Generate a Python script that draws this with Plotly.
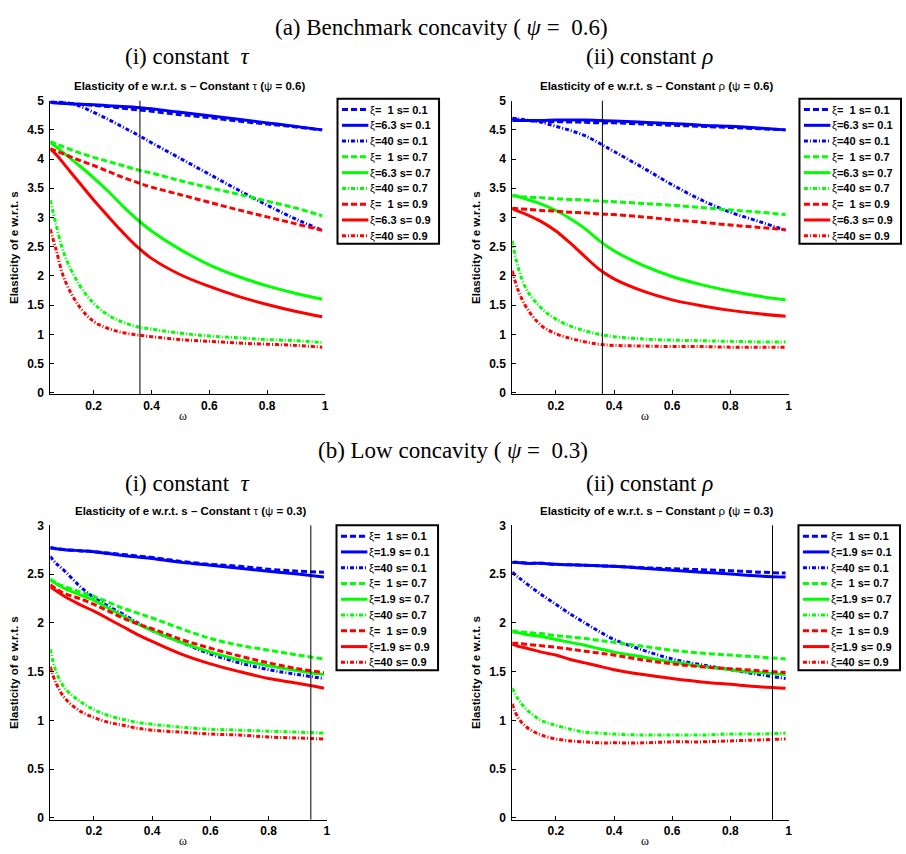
import plotly.graph_objects as go

# ---------------------------------------------------------------- data
OMEGA = [0.05, 0.07, 0.10, 0.15, 0.20, 0.25, 0.30, 0.35, 0.40, 0.50, 0.60, 0.70, 0.80, 0.90, 0.99]
X_TICKS = [0.2, 0.4, 0.6, 0.8, 1]
Y_TICKS_BENCH = [0, 0.5, 1, 1.5, 2, 2.5, 3, 3.5, 4, 4.5, 5]
Y_TICKS_LOW = [0, 0.5, 1, 1.5, 2, 2.5, 3]
S_VALUES = ["0.1", "0.7", "0.9"]
XI_BENCH = ["1", "6.3", "40"]
XI_LOW = ["1", "1.9", "40"]
MARK_BENCH = 0.36
MARK_LOW = 0.945

# (a)(i) benchmark concavity psi = 0.6, constant tau
tau_b_s01_xi1 = [4.98, 4.97, 4.96, 4.94, 4.92, 4.90, 4.87, 4.845, 4.82, 4.76, 4.71, 4.65, 4.60, 4.55, 4.50]
tau_b_s01_xi2 = [4.97, 4.96, 4.95, 4.94, 4.93, 4.915, 4.90, 4.885, 4.86, 4.80, 4.74, 4.68, 4.62, 4.56, 4.50]
tau_b_s01_xi3 = [5.00, 4.99, 4.97, 4.91, 4.80, 4.68, 4.55, 4.42, 4.28, 4.01, 3.74, 3.47, 3.21, 2.97, 2.78]
tau_b_s07_xi1 = [4.30, 4.26, 4.20, 4.11, 4.03, 3.96, 3.89, 3.82, 3.76, 3.63, 3.51, 3.40, 3.28, 3.16, 3.03]
tau_b_s07_xi2 = [4.28, 4.21, 4.09, 3.89, 3.68, 3.45, 3.20, 2.97, 2.77, 2.45, 2.19, 1.99, 1.83, 1.70, 1.60]
tau_b_s07_xi3 = [3.30, 2.88, 2.35, 1.85, 1.53, 1.33, 1.21, 1.13, 1.09, 1.02, 0.97, 0.94, 0.91, 0.89, 0.86]
tau_b_s09_xi1 = [4.18, 4.14, 4.08, 3.98, 3.89, 3.79, 3.69, 3.60, 3.52, 3.39, 3.26, 3.13, 3.01, 2.89, 2.78]
tau_b_s09_xi2 = [4.17, 4.08, 3.90, 3.60, 3.30, 3.02, 2.75, 2.50, 2.30, 2.02, 1.82, 1.65, 1.51, 1.39, 1.30]
tau_b_s09_xi3 = [2.80, 2.45, 1.93, 1.48, 1.22, 1.10, 1.03, 0.99, 0.96, 0.91, 0.88, 0.85, 0.83, 0.81, 0.78]

# (a)(ii) benchmark concavity psi = 0.6, constant rho
rho_b_s01_xi1 = [4.68, 4.67, 4.66, 4.65, 4.64, 4.635, 4.63, 4.62, 4.62, 4.60, 4.58, 4.56, 4.54, 4.52, 4.50]
rho_b_s01_xi2 = [4.66, 4.66, 4.66, 4.66, 4.67, 4.67, 4.67, 4.66, 4.65, 4.63, 4.61, 4.58, 4.56, 4.53, 4.50]
rho_b_s01_xi3 = [4.70, 4.69, 4.67, 4.63, 4.56, 4.49, 4.40, 4.27, 4.13, 3.85, 3.56, 3.30, 3.09, 2.93, 2.78]
rho_b_s07_xi1 = [3.37, 3.36, 3.35, 3.34, 3.32, 3.31, 3.30, 3.28, 3.27, 3.24, 3.21, 3.17, 3.13, 3.09, 3.05]
rho_b_s07_xi2 = [3.38, 3.36, 3.31, 3.23, 3.12, 2.98, 2.81, 2.60, 2.43, 2.18, 1.99, 1.85, 1.74, 1.65, 1.59]
rho_b_s07_xi3 = [2.60, 2.15, 1.76, 1.45, 1.26, 1.14, 1.06, 1.00, 0.96, 0.92, 0.90, 0.89, 0.88, 0.87, 0.87]
rho_b_s09_xi1 = [3.16, 3.15, 3.14, 3.12, 3.11, 3.09, 3.08, 3.06, 3.05, 3.01, 2.96, 2.92, 2.87, 2.83, 2.79]
rho_b_s09_xi2 = [3.15, 3.11, 3.05, 2.93, 2.77, 2.56, 2.33, 2.11, 1.95, 1.74, 1.59, 1.49, 1.41, 1.35, 1.31]
rho_b_s09_xi3 = [2.09, 1.76, 1.45, 1.15, 1.01, 0.93, 0.87, 0.83, 0.81, 0.80, 0.79, 0.79, 0.78, 0.78, 0.78]

# (b)(i) low concavity psi = 0.3, constant tau
tau_l_s01_xi1 = [2.77, 2.76, 2.75, 2.74, 2.73, 2.715, 2.70, 2.685, 2.67, 2.63, 2.60, 2.58, 2.55, 2.53, 2.52]
tau_l_s01_xi2 = [2.77, 2.76, 2.75, 2.74, 2.73, 2.71, 2.69, 2.675, 2.66, 2.62, 2.59, 2.56, 2.53, 2.50, 2.47]
tau_l_s01_xi3 = [2.68, 2.61, 2.53, 2.38, 2.26, 2.17, 2.09, 2.00, 1.92, 1.80, 1.68, 1.59, 1.52, 1.47, 1.43]
tau_l_s07_xi1 = [2.45, 2.41, 2.37, 2.32, 2.27, 2.21, 2.15, 2.10, 2.05, 1.94, 1.84, 1.77, 1.72, 1.67, 1.63]
tau_l_s07_xi2 = [2.44, 2.40, 2.35, 2.29, 2.23, 2.15, 2.07, 1.99, 1.92, 1.80, 1.70, 1.62, 1.56, 1.51, 1.47]
tau_l_s07_xi3 = [1.73, 1.50, 1.33, 1.20, 1.11, 1.05, 1.01, 0.98, 0.96, 0.93, 0.91, 0.90, 0.89, 0.88, 0.87]
tau_l_s09_xi1 = [2.39, 2.35, 2.30, 2.25, 2.19, 2.12, 2.05, 1.99, 1.94, 1.83, 1.74, 1.66, 1.59, 1.53, 1.49]
tau_l_s09_xi2 = [2.37, 2.33, 2.27, 2.19, 2.12, 2.04, 1.96, 1.88, 1.81, 1.68, 1.58, 1.50, 1.43, 1.38, 1.33]
tau_l_s09_xi3 = [1.55, 1.38, 1.23, 1.10, 1.03, 0.98, 0.95, 0.92, 0.90, 0.88, 0.86, 0.85, 0.83, 0.82, 0.81]

# (b)(ii) low concavity psi = 0.3, constant rho
rho_l_s01_xi1 = [2.62, 2.62, 2.61, 2.61, 2.60, 2.595, 2.59, 2.585, 2.58, 2.565, 2.555, 2.545, 2.535, 2.52, 2.51]
rho_l_s01_xi2 = [2.62, 2.62, 2.61, 2.61, 2.60, 2.595, 2.59, 2.585, 2.58, 2.56, 2.54, 2.52, 2.50, 2.48, 2.47]
rho_l_s01_xi3 = [2.52, 2.47, 2.40, 2.29, 2.19, 2.09, 2.00, 1.91, 1.83, 1.72, 1.63, 1.57, 1.52, 1.47, 1.43]
rho_l_s07_xi1 = [1.92, 1.91, 1.90, 1.89, 1.87, 1.855, 1.84, 1.82, 1.80, 1.76, 1.72, 1.69, 1.67, 1.65, 1.63]
rho_l_s07_xi2 = [1.91, 1.90, 1.88, 1.86, 1.83, 1.80, 1.77, 1.735, 1.70, 1.65, 1.60, 1.555, 1.52, 1.49, 1.47]
rho_l_s07_xi3 = [1.33, 1.22, 1.11, 1.00, 0.95, 0.91, 0.88, 0.87, 0.86, 0.85, 0.85, 0.85, 0.86, 0.86, 0.87]
rho_l_s09_xi1 = [1.79, 1.79, 1.78, 1.765, 1.75, 1.73, 1.71, 1.69, 1.67, 1.62, 1.58, 1.55, 1.53, 1.51, 1.49]
rho_l_s09_xi2 = [1.78, 1.76, 1.74, 1.70, 1.67, 1.625, 1.59, 1.555, 1.52, 1.47, 1.43, 1.395, 1.37, 1.345, 1.33]
rho_l_s09_xi3 = [1.17, 1.03, 0.93, 0.85, 0.81, 0.79, 0.78, 0.77, 0.77, 0.77, 0.78, 0.78, 0.79, 0.80, 0.81]

# ---------------------------------------------------------------- styling
W, H = 906, 854
COLORS = ["#0000FF", "#00FF00", "#FF0000"]          # by s
DASHES = ["6px,3px", "solid", "4px,2px,1px,2px"]     # by xi
SANS = "Liberation Sans"
SERIF = "Liberation Serif"


def fx(p):
    return p / W


def fy(p):
    return 1 - p / H


panels = [
    dict(n="", box=(50.5, 326.5, 95, 393), yt=Y_TICKS_BENCH, mark=MARK_BENCH, xi=XI_BENCH,
         leg=(339, 93), sym="τ", psi="0.6",
         data=[[tau_b_s01_xi1, tau_b_s01_xi2, tau_b_s01_xi3],
               [tau_b_s07_xi1, tau_b_s07_xi2, tau_b_s07_xi3],
               [tau_b_s09_xi1, tau_b_s09_xi2, tau_b_s09_xi3]]),
    dict(n="2", box=(514.5, 792, 95, 393), yt=Y_TICKS_BENCH, mark=MARK_BENCH, xi=XI_BENCH,
         leg=(803, 93), sym="ρ", psi="0.6",
         data=[[rho_b_s01_xi1, rho_b_s01_xi2, rho_b_s01_xi3],
               [rho_b_s07_xi1, rho_b_s07_xi2, rho_b_s07_xi3],
               [rho_b_s09_xi1, rho_b_s09_xi2, rho_b_s09_xi3]]),
    dict(n="3", box=(50.5, 328.3, 525.7, 824.3), yt=Y_TICKS_LOW, mark=MARK_LOW, xi=XI_LOW,
         leg=(338, 525.7), sym="τ", psi="0.3",
         data=[[tau_l_s01_xi1, tau_l_s01_xi2, tau_l_s01_xi3],
               [tau_l_s07_xi1, tau_l_s07_xi2, tau_l_s07_xi3],
               [tau_l_s09_xi1, tau_l_s09_xi2, tau_l_s09_xi3]]),
    dict(n="4", box=(514.5, 792, 525.7, 824.3), yt=Y_TICKS_LOW, mark=MARK_LOW, xi=XI_LOW,
         leg=(802, 525.7), sym="ρ", psi="0.3",
         data=[[rho_l_s01_xi1, rho_l_s01_xi2, rho_l_s01_xi3],
               [rho_l_s07_xi1, rho_l_s07_xi2, rho_l_s07_xi3],
               [rho_l_s09_xi1, rho_l_s09_xi2, rho_l_s09_xi3]]),
]

fig = go.Figure()
shapes = []
annotations = []
tick_font = dict(family=SANS, size=12, color="black", weight="bold")

for p in panels:
    n = p["n"]
    left, right, top, bottom = p["box"]
    xref, yref = "x" + n, "y" + n
    ymax = p["yt"][-1]

    # curves, ordered s = 0.1, 0.7, 0.9 and xi low, mid, high
    for si, s in enumerate(S_VALUES):
        for ki, xi in enumerate(p["xi"]):
            fig.add_trace(go.Scatter(
                x=OMEGA, y=p["data"][si][ki], xaxis=xref, yaxis=yref, mode="lines",
                line=dict(color=COLORS[si], width=3, dash=DASHES[ki], shape="spline", smoothing=1.0),
                name=f"ξ={xi} s= {s}", hoverinfo="x+y+name",
            ))

    axis_common = dict(showgrid=False, zeroline=False, showline=True, linecolor="black",
                       linewidth=1, ticks="inside", ticklen=4, tickcolor="black",
                       tickwidth=1, tickfont=tick_font)
    fig.layout["xaxis" + n] = dict(
        domain=[fx(left), fx(right)], range=[0.05, 1], tickvals=X_TICKS,
        anchor=yref, **axis_common)
    # start a hair below zero so the "0" tick label is kept
    fig.layout["yaxis" + n] = dict(
        domain=[fy(bottom), fy(top)], range=[-0.006 * ymax, ymax], tickvals=p["yt"],
        anchor=xref, ticklabelstandoff=3, **axis_common)

    # vertical reference line at the marked omega
    shapes.append(dict(type="line", xref=xref, yref=yref + " domain", x0=p["mark"], x1=p["mark"],
                       y0=0, y1=1, line=dict(color="black", width=1)))

    # small panel title
    annotations.append(dict(
        text=f"<b>Elasticity of e w.r.t. s – Constant </b>{p['sym']}<b> (</b>ψ<b> = {p['psi']})</b>",
        x=fx((left + right) / 2 + 6 if p["sym"] == "ρ" else (left + right) / 2 + 2),
        y=fy(top - 15), xref="paper", yref="paper", showarrow=False,
        xanchor="center", yanchor="middle", font=dict(family=SANS, size=11.5, color="black")))
    # axis titles
    annotations.append(dict(text="<b>Elasticity of e w.r.t. s</b>", x=fx(left - 37), y=fy((top + bottom) / 2),
                            xref="paper", yref="paper", showarrow=False, textangle=-90,
                            xanchor="center", yanchor="middle",
                            font=dict(family=SANS, size=11.5, color="black")))
    annotations.append(dict(text="ω", x=fx(left + 133), y=fy(bottom + 22), xref="paper", yref="paper",
                            showarrow=False, xanchor="center", yanchor="middle",
                            font=dict(family=SERIF, size=12, color="black")))

    # legend box
    lx, ly = p["leg"]
    shapes.append(dict(type="rect", xref="paper", yref="paper", x0=fx(lx), x1=fx(lx + 102),
                       y0=fy(ly + 147), y1=fy(ly), line=dict(color="black", width=2),
                       fillcolor="white", layer="above"))
    row = 0
    for si, s in enumerate(S_VALUES):
        for ki, xi in enumerate(p["xi"]):
            yc = ly + 11 + 16 * row
            shapes.append(dict(type="line", xref="paper", yref="paper", x0=fx(lx + 4.5), x1=fx(lx + 31),
                               y0=fy(yc), y1=fy(yc), layer="above",
                               line=dict(color=COLORS[si], width=3, dash=DASHES[ki])))
            xi_txt = xi if len(xi) > 1 else "\u00a0\u00a0" + xi
            annotations.append(dict(text=f"ξ<b>={xi_txt} s= {s}</b>", x=fx(lx + 31), y=fy(yc),
                                    xref="paper", yref="paper", showarrow=False,
                                    xanchor="left", yanchor="middle",
                                    font=dict(family=SANS, size=11, color="black")))
            row += 1

# section and column headings
headings = [
    ("(a) Benchmark concavity (\u00a0<i>ψ</i> =\u00a0\u00a00.6)", 443, 21),
    ("(i) constant\u00a0 <i>τ</i>", 188, 50),
    ("(ii) constant <i>ρ</i>", 652, 50),
    ("(b) Low concavity (\u00a0<i>ψ</i> =\u00a0\u00a00.3)", 455, 450),
    ("(i) constant\u00a0 <i>τ</i>", 188, 483),
    ("(ii) constant <i>ρ</i>", 652, 483),
]
for txt, x, y in headings:
    annotations.append(dict(text=txt, x=fx(x), y=fy(y), xref="paper", yref="paper", showarrow=False,
                            xanchor="center", yanchor="middle",
                            font=dict(family=SERIF, size=23, color="black")))

fig.update_layout(
    width=W, height=H, margin=dict(l=0, r=0, t=0, b=0),
    paper_bgcolor="white", plot_bgcolor="white", showlegend=False,
    shapes=shapes, annotations=annotations,
)

fig.write_html("out.html")
